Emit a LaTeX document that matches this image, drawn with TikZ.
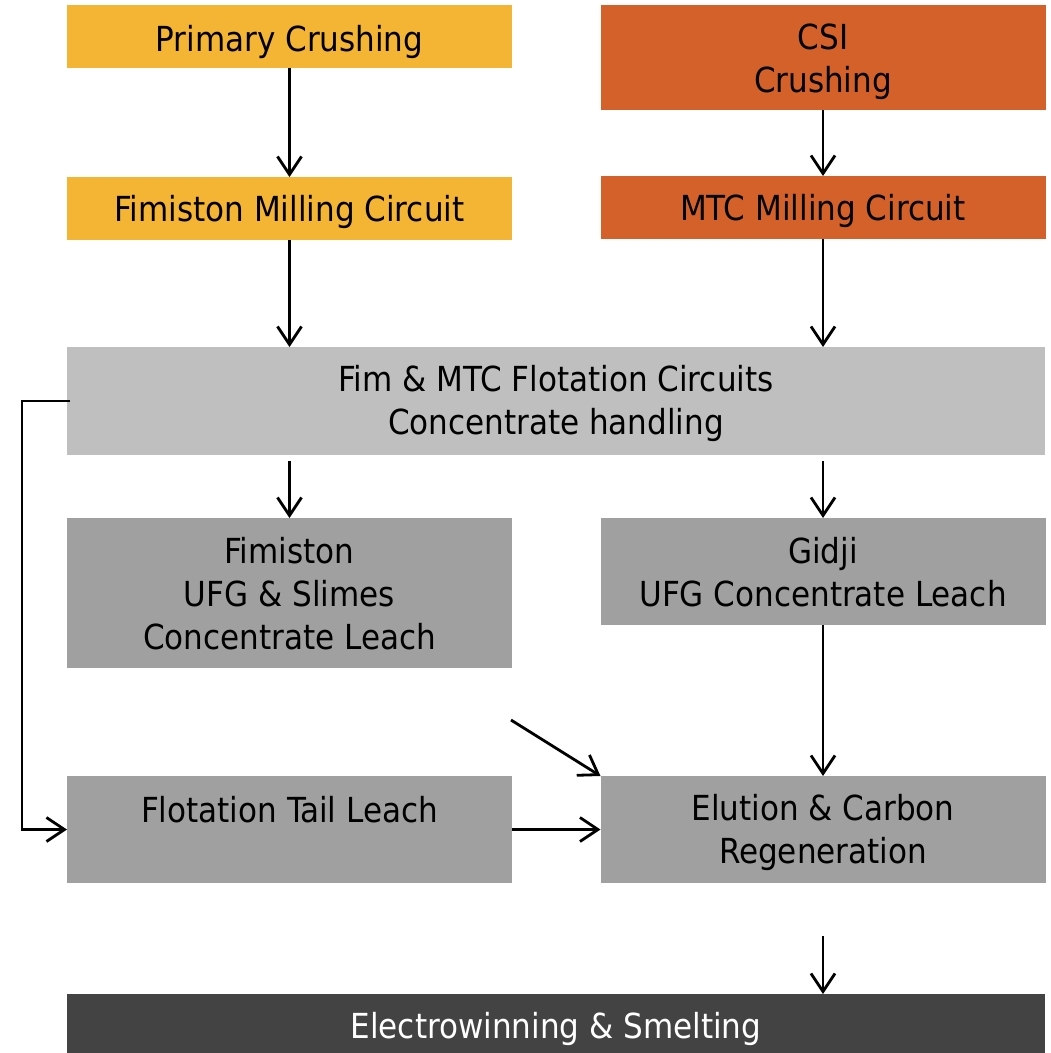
\documentclass[tikz,border=0pt]{standalone}
\usepackage{fontspec}
\setmainfont{DejaVu Sans Condensed}
\usetikzlibrary{arrows.meta}
\definecolor{cyellow}{HTML}{F4B434}
\definecolor{corange}{HTML}{D5612A}
\definecolor{clight}{HTML}{BFBFBF}
\definecolor{cmid}{HTML}{A0A0A0}
\definecolor{cdark}{HTML}{434343}
\newcommand{\lowertext}[2]{\raisebox{0pt}[\dimexpr\height+#1][\depth]{#2}}
\newcommand{\raisetext}[2]{\raisebox{0pt}[\height][\dimexpr\depth+#1]{#2}}
\newcommand{\lines}[1]{{\setlength{\tabcolsep}{0pt}\begin{tabular}{c}#1\end{tabular}}}
\begin{document}
\begin{tikzpicture}[x=1pt,y=-1pt,
  box/.style={rectangle,inner sep=0pt,outer sep=0pt,align=center,
    font=\fontsize{34.5}{43}\selectfont,text=black},
  halfbox/.style={box,minimum width=445pt},
  fullbox/.style={box,minimum width=978pt},
  flow/.style={line width=2.8pt,-{Straight Barb[length=18pt,width=24pt,line width=2.8pt]}}
]
\useasboundingbox (0,0) rectangle (1051,1053);
\node[halfbox,fill=cyellow,minimum height=63pt] (pc) at (289.5,36.5) {\lowertext{10pt}{Primary Crushing}};
\node[halfbox,fill=corange,minimum height=105pt] (csi) at (823,57.5) {\lowertext{10pt}{\lines{CSI\\Crushing}}};
\node[halfbox,fill=cyellow,minimum height=63pt] (fm) at (289.5,208.5) {\lowertext{6pt}{Fimiston Milling Circuit}};
\node[halfbox,fill=corange,minimum height=63pt] (mtc) at (823,207.5) {\lowertext{6pt}{MTC Milling Circuit}};
\node[fullbox,fill=clight,minimum height=108pt] (fl) at (556,401) {\lowertext{6pt}{\lines{Fim \& MTC Flotation Circuits\\Concentrate handling}}};
\node[halfbox,fill=cmid,minimum height=150pt] (fu) at (289.5,593) {\lowertext{10pt}{\lines{Fimiston\\UFG \& Slimes\\Concentrate Leach}}};
\node[halfbox,fill=cmid,minimum height=107pt] (gd) at (823,571.5) {\lowertext{10pt}{\lines{Gidji\\UFG Concentrate Leach}}};
\node[halfbox,fill=cmid,minimum height=107pt] (ft) at (289.5,829.5) {\raisetext{40pt}{Flotation Tail Leach}};
\node[halfbox,fill=cmid,minimum height=107pt] (el) at (823,829.5) {\lowertext{8pt}{\lines{Elution \& Carbon\\Regeneration}}};
\node[fullbox,fill=cdark,minimum height=70pt,text=white] (ew) at (556,1029) {Electrowinning \& Smelting};
\coordinate (dstart) at (511,720);
\coordinate (loopx) at (22,0);

\draw[flow] (pc.south) -- (fm.north);
\draw[flow] (csi.south) -- (mtc.north);
\draw[flow] (fm.south) -- (fm.south |- fl.north);
\draw[flow] (mtc.south) -- (mtc.south |- fl.north);
\draw[flow,shorten <=6pt] (fl.south -| fu.north) -- (fu.north);
\draw[flow,shorten <=6pt] (fl.south -| gd.north) -- (gd.north);
\draw[flow] (gd.south) -- (el.north);
\draw[flow] (dstart) -- (el.north west);
\draw[flow] (ft.east) -- (el.west);
\draw[flow] ([xshift=3pt]fl.west) -- (loopx |- fl.west) |- (ft.west);
\draw[flow,shorten <=53pt] (el.south) -- (el.south |- ew.north);
\end{tikzpicture}
\end{document}
